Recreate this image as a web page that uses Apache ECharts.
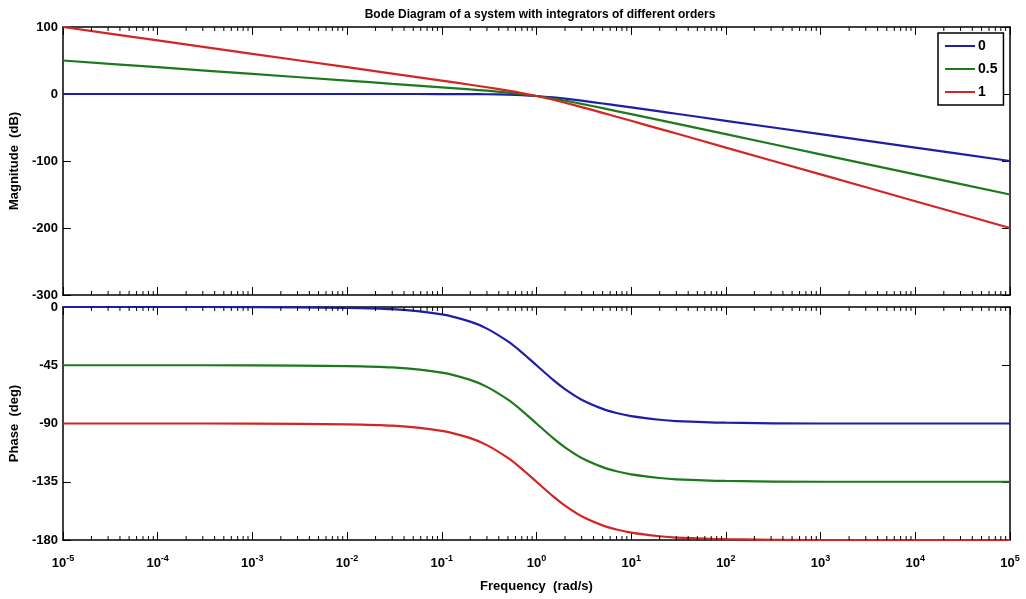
<!DOCTYPE html>
<html>
<head>
<meta charset="utf-8">
<script src="https://cdn.jsdelivr.net/npm/echarts@6/dist/echarts.min.js"></script>
<style>html,body{margin:0;padding:0;background:#fff}#c{width:1026px;height:599px}</style>
</head>
<body>
<div id="c"></div>
<script>
// Frequencies (rad/s) at which values were read
const freq = [1e-5, 1e-4, 1e-3, 1e-2, 0.03, 0.1, 0.2, 0.3, 0.5, 0.7, 1, 1.5, 2, 3, 5, 7, 10, 20, 30, 100, 1e3, 1e4, 1e5];
// Magnitude (dB)
const mag0   = [0, 0, 0, 0, 0, -0.04, -0.2, -0.4, -1.0, -1.7, -3.0, -5.1, -7.0, -10.0, -14.2, -17.0, -20.0, -26.0, -29.5, -40, -60, -80, -100];
const mag05  = [50, 40, 30, 20, 15.2, 10.0, 6.8, 4.9, 2.0, -0.2, -3.0, -6.9, -10.0, -14.8, -21.1, -25.5, -30.0, -39.0, -44.3, -60, -90, -120, -150];
const mag1   = [100, 80, 60, 40, 30.5, 20.0, 13.8, 10.1, 5.0, 1.4, -3.0, -8.6, -13.0, -19.5, -28.1, -33.9, -40.0, -52.0, -59.0, -80, -120, -160, -200];
// Phase (deg)
const ph0    = [0, 0, -0.1, -0.6, -1.7, -5.7, -11.3, -16.7, -26.6, -35.0, -45.0, -56.3, -63.4, -71.6, -78.7, -81.9, -84.3, -87.1, -88.1, -89.4, -90, -90, -90];
const ph05   = [-45, -45, -45.1, -45.6, -46.7, -50.7, -56.3, -61.7, -71.6, -80.0, -90.0, -101.3, -108.4, -116.6, -123.7, -126.9, -129.3, -132.1, -133.1, -134.4, -135, -135, -135];
const ph1    = [-90, -90, -90.1, -90.6, -91.7, -95.7, -101.3, -106.7, -116.6, -125.0, -135.0, -146.3, -153.4, -161.6, -168.7, -171.9, -174.3, -177.1, -178.1, -179.4, -180, -180, -180];
const seriesNames = ['0', '0.5', '1'];
const magTicks = [-300, -200, -100, 0, 100];
const phaseTicks = [-180, -135, -90, -45, 0];

const colors = ['#1e1ea6', '#1c7a1c', '#d42424'];
const FONT = '"Liberation Sans Narrow", "Liberation Sans", Arial, sans-serif';

function pairs(ys) { return freq.map((f, i) => [f, ys[i]]); }

// minor tick positions (axis decoration)
const minorTicks = [];
for (let k = -5; k < 5; k++) for (let m = 2; m <= 9; m++) minorTicks.push([m * Math.pow(10, k)]);

const supLabel = {
  formatter: function (v) {
    const e = Math.round(Math.log10(v));
    return '{b|10}{s|' + e + '}';
  },
  rich: {
    b: { fontSize: 13, fontWeight: 'bold', fontFamily: FONT, color: '#000' },
    s: { fontSize: 9, fontWeight: 'bold', fontFamily: FONT, color: '#000', padding: [0, 0, 10, 0] }
  },
  margin: 14
};

function xAx(gridIndex, position, showLabels) {
  const a = {
    type: 'log', logBase: 10, gridIndex: gridIndex, position: position,
    min: 1e-5, max: 1e5, interval: 1,
    axisLine: { show: true, onZero: false, lineStyle: { color: '#000', width: 1.5 } },
    axisTick: { show: true, inside: true, length: 8, lineStyle: { color: '#000', width: 1 } },
    splitLine: { show: false },
    axisLabel: { show: false }
  };
  if (showLabels) {
    a.axisLabel = Object.assign({ show: true, showMinLabel: true, showMaxLabel: true, interval: 0 }, supLabel);
    a.name = 'Frequency  (rad/s)';
    a.nameLocation = 'middle';
    a.nameGap = 40;
    a.nameTextStyle = { fontSize: 13, fontWeight: 'bold', fontFamily: FONT, color: '#000' };
  }
  return a;
}
function yAx(gridIndex, position, ticks, name) {
  const a = {
    type: 'value', gridIndex: gridIndex, position: position,
    min: ticks[0], max: ticks[ticks.length - 1], interval: ticks[1] - ticks[0],
    axisLine: { show: true, lineStyle: { color: '#000', width: 1.5 } },
    axisTick: { show: true, inside: true, length: 8, lineStyle: { color: '#000', width: 1 } },
    splitLine: { show: false },
    axisLabel: { show: false }
  };
  if (name) {
    a.axisLabel = { show: true, fontSize: 13, fontWeight: 'bold', fontFamily: FONT, color: '#000', margin: 5 };
    a.name = name;
    a.nameLocation = 'middle';
    a.nameGap = 36;
    a.nameRotate = 90;
    a.nameTextStyle = { fontSize: 13, fontWeight: 'bold', fontFamily: FONT, color: '#000' };
  }
  return a;
}

function lineSeries(name, xi, yi, ys, ci) {
  return {
    name: name, type: 'line', xAxisIndex: xi, yAxisIndex: yi,
    data: pairs(ys), smooth: 0.3, showSymbol: false, symbol: 'none',
    lineStyle: { color: colors[ci], width: 2.2 }, itemStyle: { color: colors[ci] },
    z: 3
  };
}

function minorTickSeries(xi, yi) {
  return {
    type: 'custom', xAxisIndex: xi, yAxisIndex: yi, silent: true, z: 4,
    data: minorTicks,
    renderItem: function (params, api) {
      const x = api.coord([api.value(0), 0])[0];
      const cs = params.coordSys;
      const style = { stroke: '#000', lineWidth: 1 };
      return {
        type: 'group', children: [
          { type: 'line', shape: { x1: x, y1: cs.y + cs.height, x2: x, y2: cs.y + cs.height - 4 }, style: style },
          { type: 'line', shape: { x1: x, y1: cs.y, x2: x, y2: cs.y + 4 }, style: style }
        ]
      };
    }
  };
}

const chart = echarts.init(document.getElementById('c'));
chart.setOption({
  animation: false,
  backgroundColor: '#fff',
  title: {
    text: 'Bode Diagram of a system with integrators of different orders',
    left: 535, top: 4, textAlign: 'center',
    textStyle: { fontSize: 12, fontWeight: 'bold', fontFamily: FONT, color: '#000' }
  },
  legend: {
    data: seriesNames, orient: 'vertical', left: 938, top: 33,
    backgroundColor: '#fff', borderColor: '#000', borderWidth: 1.5,
    padding: [6, 6, 6, 6], itemGap: 9, itemWidth: 30, itemHeight: 14,
    textStyle: { fontSize: 14, fontWeight: 'bold', fontFamily: FONT, color: '#000', padding: [0, 0, 0, -2] },
    itemStyle: { opacity: 0 }, z: 10
  },
  grid: [
    { left: 60, top: 27, width: 950, height: 268, show: false },
    { left: 60, top: 307, width: 950, height: 233, show: false }
  ],
  xAxis: [
    xAx(0, 'bottom', false), xAx(0, 'top', false),
    xAx(1, 'bottom', true), xAx(1, 'top', false)
  ],
  yAxis: [
    yAx(0, 'left', magTicks, 'Magnitude  (dB)'), yAx(0, 'right', magTicks, null),
    yAx(1, 'left', phaseTicks, 'Phase  (deg)'), yAx(1, 'right', phaseTicks, null)
  ],
  series: [
    lineSeries(seriesNames[0], 0, 0, mag0, 0),
    lineSeries(seriesNames[1], 0, 0, mag05, 1),
    lineSeries(seriesNames[2], 0, 0, mag1, 2),
    lineSeries(seriesNames[0], 2, 2, ph0, 0),
    lineSeries(seriesNames[1], 2, 2, ph05, 1),
    lineSeries(seriesNames[2], 2, 2, ph1, 2),
    minorTickSeries(0, 0),
    minorTickSeries(2, 2)
  ]
});
</script>
</body>
</html>
